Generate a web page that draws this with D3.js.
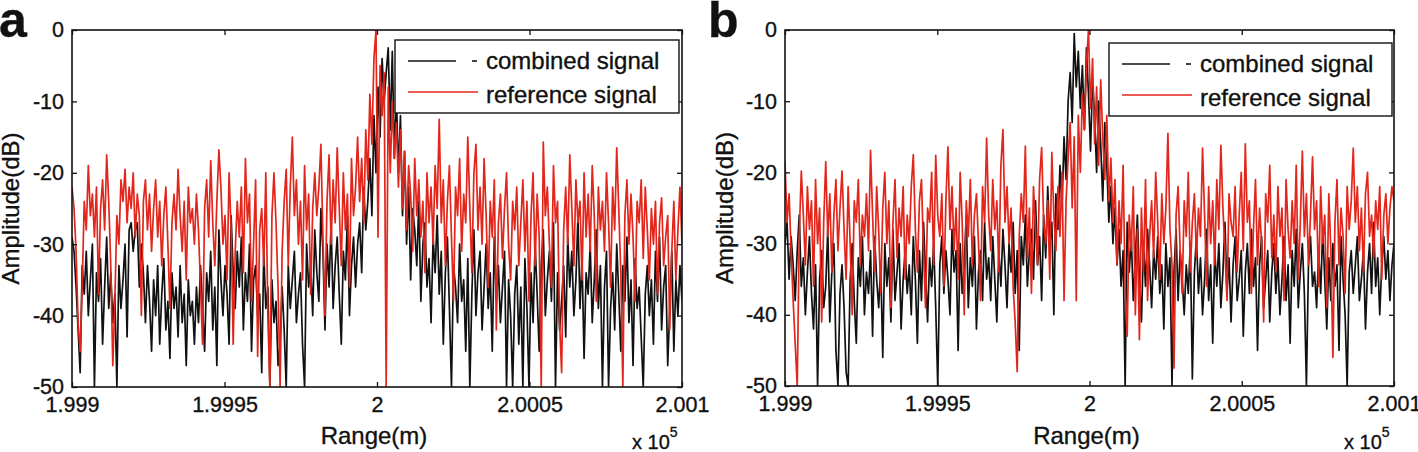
<!DOCTYPE html>
<html><head><meta charset="utf-8">
<script src="https://cdn.jsdelivr.net/npm/d3@7"></script>
<style>
body{margin:0;background:#fff;}
svg{display:block;}
text{font-family:"Liberation Sans",Arial,Helvetica,sans-serif;fill:#111;stroke:#111;stroke-width:0.35px;}
</style>
</head><body>
<svg id="chart" width="1418" height="452"></svg>
<script>
// ---------- data ----------
const rangeMin = 1.999, rangeMax = 2.001;           // x 10^5 m
const xTickValues = [1.999, 1.9995, 2, 2.0005, 2.001];
const xTickLabels = ["1.999", "1.9995", "2", "2.0005", "2.001"];
const yTickValues = [0, -10, -20, -30, -40, -50];
const yTickLabels = ["0", "-10", "-20", "-30", "-40", "-50"];
const seriesNames = ["combined signal", "reference signal"];
const panelLabels = ["a", "b"];
const xAxisTitle = "Range(m)";
const yAxisTitle = "Amplitude(dB)";

const combinedA = [
-29,-31,-36,-42,-48,-33,-37,-31,-40,-35,-30,-50,-34,-38,-32,-44,-36,-29,-39,-34,
-41,-37,-50,-33,-39,-35,-30,-43,-28,-27,-31,-28,-27,-36,-30,-34,-41,-33,-38,-45,
-35,-40,-33,-44,-37,-32,-42,-38,-46,-34,-39,-36,-43,-33,-41,-37,-47,-35,-40,-38,
-44,-36,-41,-33,-39,-45,-34,-38,-31,-42,-36,-47,-28,-35,-40,-33,-37,-44,-26,-34,
-39,-31,-36,-29,-42,-34,-38,-30,-45,-35,-33,-40,-37,-48,-31,-39,-36,-50,-35,-41,
-38,-47,-44,-36,-42,-50,-33,-39,-35,-31,-41,-37,-34,-44,-50,-30,-36,-33,-40,-28,
-34,-38,-25,-31,-42,-30,-36,-27,-39,-33,-29,-37,-44,-31,-35,-26,-40,-33,-29,-36,
-30,-27,-34,-22,-28,-24,-18,-26,-12,-20,-8,-15,-4,-10,-6,-2.5,-14,-3,-18,-9,
-20,-12,-26,-17,-30,-22,-35,-25,-28,-33,-24,-38,-30,-27,-36,-32,-41,-29,-34,-26,
-37,-31,-44,-34,-29,-39,-50,-33,-36,-41,-30,-38,-35,-45,-32,-50,-37,-28,-40,-34,
-31,-42,-36,-30,-39,-34,-45,-29,-38,-33,-41,-36,-31,-50,-35,-40,-50,-37,-33,-44,
-36,-50,-32,-39,-50,-34,-41,-30,-37,-45,-33,-28,-40,-35,-31,-38,-27,-50,-34,-42,
-38,-33,-43,-29,-36,-31,-40,-35,-26,-39,-32,-46,-34,-37,-30,-41,-35,-28,-39,-33,
-50,-36,-31,-50,-39,-34,-42,-30,-37,-45,-33,-38,-29,-41,-35,-47,-32,-39,-36,-43,
-50,-37,-33,-40,-35,-44,-31,-38,-29,-42,-36,-33,-47,-39,-31,-45,-35,-40,-33,-38
];
const referenceA = [
-22,-25,-31,-41,-45,-36,-24,-28,-19,-26,-23,-29,-22,-37,-25,-21,-28,-17.5,-24,-33,
-47,-38,-26,-30,-21,-24,-19.5,-27,-22,-25,-20,-29,-23,-26,-40,-24,-21,-28,-23,-31,
-25,-21,-29,-24,-33,-26,-22,-30,-39,-27,-23,-28,-19.5,-26,-31,-24,-35,-22,-27,-25,
-30,-23,-28,-36,-44,-25,-21,-29,-18.3,-27,-33,-24,-16.8,-22,-30,-26,-35,-20,-28,-44,
-31,-24,-29,-22,-34,-18,-27,-23,-38,-30,-21,-45.7,-28,-25,-33,-20,-40,-50,-26,-20,
-27,-36,-50,-31,-24,-19.5,-33,-22,-15,-26,-21,-30,-24,-35,-19,-28,-23,-37,-25,-20,
-26,-22,-16,-29,-40,-24,-17.5,-30,-21,-27,-16.5,-25,-33,-20,-28,-23,-36,-18,-26,-22,
-15,-24,-18,-27,-14,-21,-9,-16,-4,0,-29,-5,-12,-6,-50,-8,-20,-10,-18,-13,
-22,-14,-25,-17,-28,-19,-23,-31,-18,-26,-21,-29,-24,-34,-20,-27,-22,-30,-19,-25,
-12.5,-27,-21,-33,-24,-19,-29,-38,-22,-26,-18,-31,-23,-27,-15,-25,-34,-20,-16,-28,
-22,-30,-18,-26,-36,-24,-29,-21,-42,-27,-23,-32,-25,-20,-30,-35,-24,-28,-22,-33,
-27,-21,-31,-24,-38,-26,-20,-33,-23,-29,-50,-15.7,-26,-22,-30,-36,-19,-27,-24,-41,
-48,-28,-22,-30,-17.5,-25,-33,-21,-27,-24,-35,-20,-29,-23,-31,-19,-26,-38,-22,-28,
-24,-31,-20,-27,-36,-22,-28,-16.5,-25,-34,-50,-26,-21,-30,-23,-29,-38,-24,-27,-21,
-32,-22,-28,-35,-25,-30,-24,-37,-27,-23.5,-33,-29,-26,-42,-31,-24,-35,-28,-22,-30
];
const combinedB = [
-30,-27,-35,-29,-33,-38,-31,-26,-36,-32,-40,-34,-29,-37,-42,-33,-50,-35,-31,-39,
-36,-28,-41,-34,-30,-45,-50,-37,-33,-39,-48,-50,-35,-30,-38,-44,-32,-36,-29,-40,
-34,-37,-31,-43,-29,-35,-39,-33,-46,-30,-36,-32,-41,-28,-38,-34,-30,-42,-35,-31,
-37,-33,-40,-29,-35,-44,-31,-38,-27,-34,-41,-32,-36,-30,-39,-50,-33,-29,-37,-31,
-35,-40,-28,-34,-31,-45,-30,-37,-33,-26,-39,-32,-36,-29,-42,-34,-31,-38,-27,-35,
-32,-38,-29,-35,-41,-31,-36,-28,-33,-39,-30,-34,-27,-37,-31,-45,-29,-33,-26,-36,
-31,-28,-35,-24,-33,-29,-38,-26,-32,-22,-30,-27,-40,-23,-28,-19,-25,-15,-21,-10,
-6,-13,-0.5,-8,-3,-11,-5,-14,-2.5,-9,-17,-7,-12,-20,-10,-16,-24,-13,-19,-27,
-22,-30,-25,-33,-28,-36,-31,-50,-27,-34,-29,-38,-32,-26,-35,-41,-30,-36,-28,-33,
-39,-31,-35,-29,-37,-33,-42,-30,-36,-32,-50,-34,-28,-38,-31,-35,-40,-33,-37,-30,
-49,-34,-29,-37,-32,-40,-35,-28,-38,-33,-44,-31,-36,-30,-39,-34,-27,-37,-32,-41,
-33,-29,-38,-35,-31,-43,-34,-30,-37,-28,-36,-32,-45,-33,-29,-39,-35,-31,-41,-34,
-30,-37,-32,-40,-35,-29,-38,-33,-44,-31,-36,-28,-39,-34,-30,-37,-50,-33,-29,-36,
-34,-39,-31,-37,-28,-35,-42,-32,-38,-30,-36,-33,-45,-29,-35,-40,-50,-34,-31,-37,
-33,-29,-38,-35,-31,-42,-34,-30,-37,-27,-36,-32,-40,-33,-29,-35,-31,-38,-33,-30
];
const referenceB = [
-18.5,-27,-23,-31,-38,-44,-50,-29,-19.8,-26,-33,-22,-28,-24,-36,-21,-30,-25,-41,-27,
-18.5,-29,-23,-34,-26,-21,-31,-25,-19.8,-28,-35,-22,-30,-40,-24,-27,-21,-33,-26,-29,
-23,-31,-16.9,-26,-34,-22,-28,-37,-25,-20,-30,-24,-39,-27,-21,-32,-25,-29,-22,-35,
-26,-30,-22,-17.5,-28,-34,-24,-21,-31,-39,-25,-27,-20,-33,-17.6,-26,-29,-23,-36,-24,
-16.4,-28,-22,-31,-25,-35,-20,-27,-40,-24,-29,-21,-33,-26,-23,-30,-38,-22,-27,-15.2,
-26,-31,-21,-28,-24,-34,-19,-14,-27,-22,-30,-25,-36,-41,-48,-29,-23,-27,-16.3,-32,
-25,-37,-22,-28,-33,-21,-16.5,-27,-30,-24,-35,-17.2,-26,-31,-22,-29,-20,-38,-24,-18,
-13,-25,-15,-38,-12,-20,-9,-14,-5,0,-11,-4,-16,-8,-19,-7,-15,-21,-12,-24,
-18,-27,-21,-33,-24,-30,-19,-36,-43,-26,-31,-22,-40,-28,-43.5,-25,-34,-21,-38,-29,
-24,-32,-20,-27,-35,-23,-30,-25,-14.5,-28,-33,-47.5,-26,-22,-31,-37,-24,-29,-20,-34,
-27,-23,-32,-25,-29,-16.6,-26,-36,-22,-30,-24,-33,-21,-28,-16.2,-25,-31,-38,-23,-27,
-29,-22,-34,-26,-20,-31,-16,-27,-24,-37,-28,-21,-33,-25,-30,-41,-23,-27,-19,-32,
-26,-34,-22,-29,-25,-38,-21,-28,-32,-24,-30,-19,-35,-27,-17,-29,-23,-33,-26,-17.8,
-28,-24,-36,-22,-30,-26,-39,-23,-31,-46,-27,-21,-33,-25,-29,-37,-22,-28,-24,-16.6,
-27,-22,-31,-25,-34,-23,-20,-29,-26,-32,-24,-28,-22,-35,-26,-23,-30,-25,-22,-24
];

// ---------- layout ----------
const colors = {combined: "#111111", reference: "#e3261b"};
const panels = [
  {label: panelLabels[0], comb: combinedA, ref: referenceA,
   box: {l: 72, r: 682, t: 30, b: 387}, labelX: -1, yTitleX: 19,
   legend: {x: 395, y: 40, w: 284, h: 73}},
  {label: panelLabels[1], comb: combinedB, ref: referenceB,
   box: {l: 785, r: 1394, t: 30, b: 386}, labelX: 708, yTitleX: 733,
   legend: {x: 1109, y: 43, w: 283, h: 73}}
];

const svg = d3.select("#chart");
const tick = 5;

panels.forEach((p, pi) => {
  const {l, r, t, b} = p.box;
  const x = d3.scaleLinear().domain([rangeMin, rangeMax]).range([l, r]);
  const y = d3.scaleLinear().domain([-50, 0]).range([b, t]);
  const g = svg.append("g");

  const clipId = "clip" + pi;
  svg.append("clipPath").attr("id", clipId)
    .append("rect").attr("x", l).attr("y", t).attr("width", r - l).attr("height", b - t);

  const sampleX = (i, n) => rangeMin + i * (rangeMax - rangeMin) / (n - 1);
  const line = d3.line()
    .x((d, i, arr) => x(sampleX(i, arr.length)))
    .y(d => y(d));

  const plot = g.append("g").attr("clip-path", `url(#${clipId})`);
  plot.append("path").datum(p.comb).attr("d", line)
    .attr("fill", "none").attr("stroke", colors.combined).attr("stroke-width", 1.7)
    .attr("stroke-linejoin", "round");
  plot.append("path").datum(p.ref).attr("d", line)
    .attr("fill", "none").attr("stroke", colors.reference).attr("stroke-width", 1.7)
    .attr("stroke-linejoin", "round");

  // axes (ticks inward, MATLAB style)
  const fmtX = (d) => xTickLabels[xTickValues.indexOf(d)];
  const fmtY = (d) => yTickLabels[yTickValues.indexOf(d)];

  const axB = g.append("g").attr("transform", `translate(0,${b})`)
    .call(d3.axisBottom(x).tickValues(xTickValues).tickFormat(fmtX)
      .tickSizeInner(-tick).tickSizeOuter(0).tickPadding(10));
  const axT = g.append("g").attr("transform", `translate(0,${t})`)
    .call(d3.axisTop(x).tickValues(xTickValues).tickFormat("")
      .tickSizeInner(-tick).tickSizeOuter(0));
  const axL = g.append("g").attr("transform", `translate(${l},0)`)
    .call(d3.axisLeft(y).tickValues(yTickValues).tickFormat(fmtY)
      .tickSizeInner(-tick).tickSizeOuter(0).tickPadding(8));
  const axR = g.append("g").attr("transform", `translate(${r},0)`)
    .call(d3.axisRight(y).tickValues(yTickValues).tickFormat("")
      .tickSizeInner(-tick).tickSizeOuter(0));
  [axB, axT, axL, axR].forEach(a => {
    a.select(".domain").remove();
    a.selectAll("line").attr("stroke", "#111").attr("stroke-width", 1.3);
    a.selectAll("text").attr("font-size", 21.5)
      .attr("font-family", '"Liberation Sans", Arial, sans-serif').attr("fill", "#111");
  });

  g.append("rect").attr("x", l).attr("y", t).attr("width", r - l).attr("height", b - t)
    .attr("fill", "none").attr("stroke", "#111").attr("stroke-width", 1.6);

  // axis titles
  g.append("text").attr("x", (l + r) / 2 - 3).attr("y", 444)
    .attr("text-anchor", "middle").attr("font-size", 24).text(xAxisTitle);
  g.append("text").attr("transform", `translate(${p.yTitleX},${(t + b) / 2}) rotate(-90)`)
    .attr("text-anchor", "middle").attr("font-size", 24).text(yAxisTitle);
  const mult = g.append("text").attr("x", r - 50).attr("y", 449).attr("font-size", 20);
  mult.append("tspan").text("x 10");
  mult.append("tspan").attr("dy", -12).attr("font-size", 14).text("5");

  // panel label
  g.append("text").attr("x", p.labelX).attr("y", 37)
    .attr("font-size", 50).attr("font-weight", "bold").text(p.label);

  // legend
  const L = p.legend;
  const lg = g.append("g");
  lg.append("rect").attr("x", L.x).attr("y", L.y).attr("width", L.w).attr("height", L.h)
    .attr("fill", "#fff").attr("stroke", "#111").attr("stroke-width", 1.4);
  const row1 = L.y + 21, row2 = L.y + 52;
  lg.append("line").attr("x1", L.x + 13).attr("x2", L.x + 61).attr("y1", row1).attr("y2", row1)
    .attr("stroke", colors.combined).attr("stroke-width", 1.6);
  lg.append("line").attr("x1", L.x + 77).attr("x2", L.x + 82).attr("y1", row1).attr("y2", row1)
    .attr("stroke", colors.combined).attr("stroke-width", 1.6);
  lg.append("line").attr("x1", L.x + 13).attr("x2", L.x + 83).attr("y1", row2).attr("y2", row2)
    .attr("stroke", colors.reference).attr("stroke-width", 1.6);
  lg.append("text").attr("x", L.x + 91).attr("y", row1 + 8).attr("font-size", 24).text(seriesNames[0]);
  lg.append("text").attr("x", L.x + 91).attr("y", row2 + 11).attr("font-size", 24).text(seriesNames[1]);
});
</script>
</body></html>
